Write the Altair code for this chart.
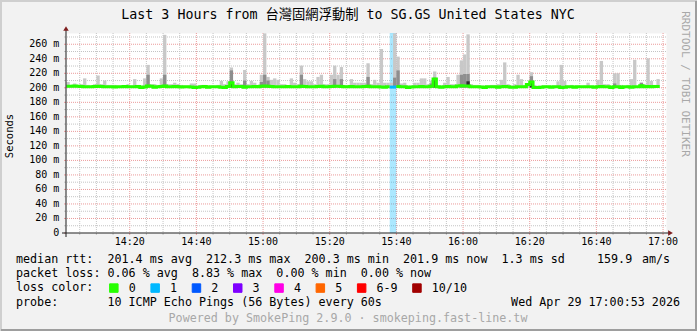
import altair as alt
import pandas as pd

MONO = "DejaVu Sans Mono"
TITLE_FONT = "DejaVu Sans Mono, Noto Sans CJK TC"

# ---------------- data ----------------
START = pd.Timestamp("2026-04-29 14:00:00")
bins = list(range(1, 179))          # one-minute bins after 14:00

smoke_max = [
    208, 204, 206, 204, 205, 213, 204, 203, 205, 217,
    205, 210, 204, 204, 204, 203, 203, 203, 205, 203,
    212, 204, 203, 213, 231.6, 205, 205, 204, 213, 273,
    205, 205, 207, 205, 204, 203, 203, 206, 206, 203,
    204, 204, 203, 203, 203, 204, 209.5, 205, 209, 228,
    205, 207, 205, 224.6, 205, 209.5, 207, 204, 218, 275,
    215, 211, 213, 211, 205, 205, 203, 213, 207, 205,
    230.6, 212, 209, 209, 205, 215, 218, 205, 205, 218,
    230.6, 218, 228.6, 204, 204, 212, 207, 207, 207, 207,
    233.8, 205, 211, 207, 253.5, 207, 207, 207, 275, 243,
    206, 207, 203, 203, 207, 207, 213, 213, 205, 210,
    222.5, 203, 203, 207, 215, 205, 205, 218, 237.8, 246,
    273.7, 205, 204, 204, 203, 203, 203, 204, 204, 205,
    211, 235, 205, 203, 205, 218, 212, 204, 205, 221.5,
    204, 203, 203, 203, 203, 203, 203, 209, 231.6, 209.5,
    203, 204, 203, 203, 202, 203, 207, 202, 202, 211,
    237, 205, 205, 202, 220, 220, 204, 202, 204, 212,
    238.5, 202, 207, 205, 240.6, 209.5, 204, 212,
]

median_rtt = [
    202.0, 202.3, 202.6, 202.2, 201.8, 201.6, 201.4, 201.6, 201.8, 202.2,
    201.8, 201.4, 201.6, 201.6, 201.2, 201.6, 201.6, 201.8, 201.4, 201.6,
    201.6, 201.8, 200.4, 201.2, 202.4, 202.2, 200.6, 201.4, 201.8, 202.6,
    201.6, 201.4, 201.8, 201.6, 201.2, 201.6, 201.4, 201.0, 200.4, 200.6,
    201.4, 201.8, 200.6, 201.4, 201.6, 201.6, 200.8, 200.5, 201.8, 207.0,
    201.6, 201.8, 201.8, 200.8, 201.4, 201.6, 201.8, 201.6, 202.0, 202.4,
    202.2, 201.8, 201.6, 201.6, 201.4, 201.6, 201.8, 201.6, 201.4, 201.6,
    202.2, 201.8, 201.6, 201.4, 201.6, 201.8, 202.2, 201.6, 201.4, 201.8,
    202.2, 202.0, 201.8, 201.4, 201.6, 201.8, 201.6, 201.4, 201.6, 201.8,
    202.0, 201.6, 201.4, 201.6, 201.2, 200.6, 201.4, 201.0, 201.0, 201.8,
    201.6, 201.4, 200.5, 201.2, 201.6, 201.6, 201.8, 201.6, 201.4, 202.0,
    212.3, 201.4, 200.8, 201.6, 201.8, 201.6, 201.4, 202.6, 203.0, 202.4,
    202.6, 201.6, 201.4, 201.6, 201.2, 200.5, 201.4, 201.6, 201.4, 200.6,
    201.6, 201.8, 201.4, 200.8, 200.6, 201.6, 201.4, 201.6, 204.5, 208.0,
    200.5, 200.5, 200.6, 201.4, 201.6, 200.6, 201.4, 201.6, 200.4, 200.8,
    201.6, 201.4, 200.6, 201.4, 201.6, 201.4, 201.6, 201.4, 200.6, 201.6,
    201.8, 201.6, 201.4, 200.5, 201.6, 201.6, 200.5, 201.4, 201.6, 200.6,
    201.6, 201.4, 202.8, 201.6, 201.8, 201.6, 201.8, 201.9,
]

SMOKE_FLOOR = 200.0
mid_bins = [25, 30, 34, 50, 54, 59, 60, 61, 71, 81, 83, 91, 99, 100, 110, 111, 119, 120, 121, 140, 165, 173]
mid_tops = [218, 218, 204, 224, 210, 208, 218, 210, 218, 212, 212, 215, 214, 224, 206, 214, 218, 219, 219, 216, 206, 207]
dark_bins = [50, 111, 121, 140]
dark_lo = [200.5, 200.5, 202.0, 200.5]
dark_hi = [208.0, 212.0, 209.0, 208.0]

loss_bins = [98, 99]
loss_counts = ["1", "1"]
loss_labels = ["0", "1", "2", "3", "4", "5", "6-9", "10/10"]
loss_colors = ["#26ff00", "#00b8ff", "#0059ff", "#7e00ff", "#ff00e6", "#ff6600", "#ff0000", "#a10000"]

x_tick_labels = ["14:20", "14:40", "15:00", "15:20", "15:40", "16:00", "16:20", "16:40", "17:00"]
x_major_minutes = [20, 40, 60, 80, 100, 120, 140, 160, 180]
x_minor_minutes = [m for m in range(5, 181, 5) if m % 20]
y_major = list(range(0, 271, 20))
y_tick_labels = ["0  "] + [f"{v} m" for v in y_major[1:]]
y_minor = list(range(10, 271, 20))
Y_MAX = 275.5

title_text = "Last 3 Hours from 台灣固網浮動制 to SG.GS United States NYC"
line_rtt = "median rtt:  201.4 ms avg  212.3 ms max  200.3 ms min  201.9 ms now  1.3 ms sd"
rtt_amps = "159.9"
rtt_unit = "am/s"
line_loss = "packet loss: 0.06 % avg  8.83 % max  0.00 % min  0.00 % now"
line_color = "loss color:"
line_probe = "probe:       10 ICMP Echo Pings (56 Bytes) every 60s"
date_text = "Wed Apr 29 17:00:53 2026"
powered_text = "Powered by SmokePing 2.9.0 · smokeping.fast-line.tw"
watermark = "RRDTOOL / TOBI OETIKER"

# ---------------- tables ----------------
def ts(m, s=0):
    return (START + pd.Timedelta(minutes=m, seconds=s)).strftime("%Y-%m-%dT%H:%M:%S")

loss_of = {b: "0" for b in bins}
for b, c in zip(loss_bins, loss_counts):
    loss_of[b] = c

smoke_df = pd.DataFrame({"t0": [ts(b) for b in bins], "t1": [ts(b + 1) for b in bins],
                         "top": smoke_max, "floor": SMOKE_FLOOR})
mid_df = pd.DataFrame({"t0": [ts(b) for b in mid_bins], "t1": [ts(b + 1) for b in mid_bins],
                       "top": mid_tops, "floor": SMOKE_FLOOR})
dark_df = pd.DataFrame({"t0": [ts(b) for b in dark_bins], "t1": [ts(b + 1) for b in dark_bins],
                        "lo": dark_lo, "hi": dark_hi})
band_df = pd.DataFrame({"t0": [ts(b) for b in loss_bins], "t1": [ts(b + 1) for b in loss_bins],
                        "loss": loss_counts, "lo": 0.0, "hi": Y_MAX})

rows = []
seg = 0
prev = None
for i, b in enumerate(bins):
    l = loss_of[b]
    if prev is not None and l != prev:
        rows.append({"t": ts(b), "v": median_rtt[i - 1], "loss": prev, "seg": seg})
        seg += 1
    rows.append({"t": ts(b), "v": median_rtt[i], "loss": l, "seg": seg})
    prev = l
rows.append({"t": ts(bins[-1] + 1), "v": median_rtt[-1], "loss": prev, "seg": seg})
median_df = pd.DataFrame(rows)

xgrid_major_df = pd.DataFrame({"t": [ts(m) for m in x_major_minutes],
                               "lab": x_tick_labels})
xgrid_minor_df = pd.DataFrame({"t": [ts(m) for m in x_minor_minutes]})
ygrid_major_df = pd.DataFrame({"v": y_major,
                               "lab": [s.replace(" ", "\u00a0") for s in y_tick_labels]})
ygrid_minor_df = pd.DataFrame({"v": y_minor})

# ---------------- scales ----------------
W, H = 600, 200
MINOR = "#c4c4c4"
MAJOR = "#eb9a9a"

x_scale = alt.Scale(domain=[ts(0, 53), ts(180, 53)])
y_scale = alt.Scale(domain=[0, Y_MAX], nice=False, zero=False)

def X(field):
    return alt.X(field, scale=x_scale, axis=None)

def Y(field):
    return alt.Y(field, scale=y_scale, axis=None)

# ---------------- layers ----------------
gx_minor = alt.Chart(xgrid_minor_df).mark_rule(color=MINOR, strokeDash=[1, 1], strokeWidth=1).encode(
    x=X("t:T"))
gx_major = alt.Chart(xgrid_major_df).mark_rule(color=MAJOR, strokeDash=[1, 1], strokeWidth=1).encode(
    x=X("t:T"))
gy_minor = alt.Chart(ygrid_minor_df).mark_rule(color=MINOR, strokeDash=[1, 1], strokeWidth=1).encode(
    y=Y("v:Q"))
gy_major = alt.Chart(ygrid_major_df).transform_filter("datum.v > 0").mark_rule(
    color=MAJOR, strokeDash=[1, 1], strokeWidth=1).encode(y=Y("v:Q"))

# small tick marks outside the frame
tx_major = alt.Chart(xgrid_major_df).mark_rule(color=MAJOR, strokeWidth=1).encode(
    x=X("t:T"), y=alt.value(H), y2=alt.value(H + 2))
tx_minor = alt.Chart(xgrid_minor_df).mark_rule(color=MINOR, strokeWidth=1).encode(
    x=X("t:T"), y=alt.value(H), y2=alt.value(H + 2))
ty_major = alt.Chart(ygrid_major_df).mark_rule(color=MAJOR, strokeWidth=1).encode(
    y=Y("v:Q"), x=alt.value(-2), x2=alt.value(0))
ty_minor = alt.Chart(ygrid_minor_df).mark_rule(color=MINOR, strokeWidth=1).encode(
    y=Y("v:Q"), x=alt.value(-2), x2=alt.value(0))

# tick labels placed through the scales
x_labels = alt.Chart(xgrid_major_df).mark_text(
    font=MONO, fontSize=10, color="black", align="center", baseline="middle").encode(
    x=X("t:T"), y=alt.value(H + 8.7), text="lab:N")
y_labels = alt.Chart(ygrid_major_df).mark_text(
    font=MONO, fontSize=10, color="black", align="right", baseline="middle").encode(
    y=Y("v:Q"), x=alt.value(-6.7), text="lab:N")

band = alt.Chart(band_df).mark_rect(opacity=0.33).encode(
    x=X("t0:T"), x2="t1:T", y=Y("hi:Q"), y2="lo:Q",
    fill=alt.Fill("loss:N", scale=alt.Scale(domain=loss_labels, range=loss_colors),
                  legend=alt.Legend(orient="none", legendX=42, legendY=249, direction="horizontal",
                                    title=None, columns=8, symbolType="square", symbolSize=72,
                                    symbolStrokeColor="black", symbolStrokeWidth=1, symbolOpacity=1,
                                    labelFont=MONO, labelFontSize=11.7, labelColor="black",
                                    labelOffset=9, columnPadding=12.3, padding=0)),
)

smoke = alt.Chart(smoke_df).mark_rect(color="#c8c8c8").encode(
    x=X("t0:T"), x2="t1:T", y=Y("top:Q"), y2="floor:Q")
smoke_mid = alt.Chart(mid_df).mark_rect(color="#8e8e8e").encode(
    x=X("t0:T"), x2="t1:T", y=Y("top:Q"), y2="floor:Q")
smoke_dark = alt.Chart(dark_df).mark_rect(color="#2e2e2e").encode(
    x=X("t0:T"), x2="t1:T", y=Y("hi:Q"), y2="lo:Q")
median_line = alt.Chart(median_df).mark_line(interpolate="step-after", strokeWidth=3).encode(
    x=X("t:T"), y=Y("v:Q"),
    stroke=alt.Stroke("loss:N", scale=alt.Scale(domain=loss_labels, range=loss_colors), legend=None),
    detail="seg:N",
)

one = pd.DataFrame({"k": [0]})
AXIS_COL = "#1f1f1f"
ARROW_COL = "#7f1f1f"
x_axis_line = alt.Chart(one).mark_rule(color=AXIS_COL, strokeWidth=1).encode(
    x=alt.value(-4), x2=alt.value(W + 4), y=alt.value(H))
y_axis_line = alt.Chart(one).mark_rule(color=AXIS_COL, strokeWidth=1).encode(
    x=alt.value(0), y=alt.value(H + 4), y2=alt.value(-4))
x_arrow = alt.Chart(one).mark_point(shape="triangle-right", filled=True, size=30, opacity=1,
                                    color=ARROW_COL).encode(x=alt.value(W + 4.5), y=alt.value(H))
y_arrow = alt.Chart(one).mark_point(shape="triangle-up", filled=True, size=30, opacity=1,
                                    color=ARROW_COL).encode(x=alt.value(0), y=alt.value(-4.5))

TOTAL_W, TOTAL_H, OX, OY = 697, 331, 66, 33
border_top = alt.Chart(one).mark_rule(color="#cfcfcf", strokeWidth=2).encode(
    x=alt.value(-OX), x2=alt.value(TOTAL_W - OX), y=alt.value(1 - OY))
border_left = alt.Chart(one).mark_rule(color="#cfcfcf", strokeWidth=2).encode(
    x=alt.value(1 - OX), y=alt.value(-OY), y2=alt.value(TOTAL_H - OY))
border_bottom = alt.Chart(one).mark_rule(color="#9e9e9e", strokeWidth=2).encode(
    x=alt.value(-OX + 1), x2=alt.value(TOTAL_W - OX), y=alt.value(TOTAL_H - 1 - OY))
border_right = alt.Chart(one).mark_rule(color="#9e9e9e", strokeWidth=2).encode(
    x=alt.value(TOTAL_W - 1 - OX), y=alt.value(-OY + 1), y2=alt.value(TOTAL_H - OY))


def text(s, x, y, size=11.7, color="black", align="left", angle=0, font=MONO):
    df = pd.DataFrame({"s": [s.replace(" ", "\u00a0")]})
    props = dict(align=align, baseline="middle", font=font, fontSize=size, color=color)
    if angle:
        props["angle"] = angle
    return alt.Chart(df).mark_text(**props).encode(text="s:N", x=alt.value(x), y=alt.value(y))


texts = [
    text(title_text, 348 - OX, 15 - OY, size=13.3, align="center", font=TITLE_FONT),
    text("Seconds", 10 - OX, 136 - OY, size=10.5, align="center", angle=270),
    text(watermark, 685 - OX, 84 - OY, size=11, color="#a8a8a8", align="center", angle=90),
    text(line_rtt, 16 - OX, 259 - OY),
    text(rtt_amps, 597 - OX, 259 - OY),
    text(rtt_unit, 642 - OX, 259 - OY),
    text(line_loss, 16 - OX, 273 - OY),
    text(line_color, 16 - OX, 287 - OY),
    text(line_probe, 16 - OX, 302 - OY),
    text(date_text, 680 - OX, 302 - OY, align="right"),
    text(powered_text, 348 - OX, 318 - OY, color="#a8a8a8", align="center"),
]

chart = alt.layer(
    gx_minor, gx_major, gy_minor, gy_major,
    band, smoke, smoke_mid, smoke_dark, median_line,
    tx_major, tx_minor, ty_major, ty_minor, x_labels, y_labels,
    x_axis_line, y_axis_line, x_arrow, y_arrow,
    border_top, border_left, border_bottom, border_right,
    *texts,
).properties(
    width=W, height=H, background="#f2f2f2",
    padding={"left": OX, "top": OY, "right": TOTAL_W - OX - W, "bottom": TOTAL_H - OY - H},
    autosize=alt.AutoSizeParams(type="none"),
).configure_view(fill="white", stroke="transparent")

chart.save("out.html", embed_options={"renderer": "svg", "actions": False})
